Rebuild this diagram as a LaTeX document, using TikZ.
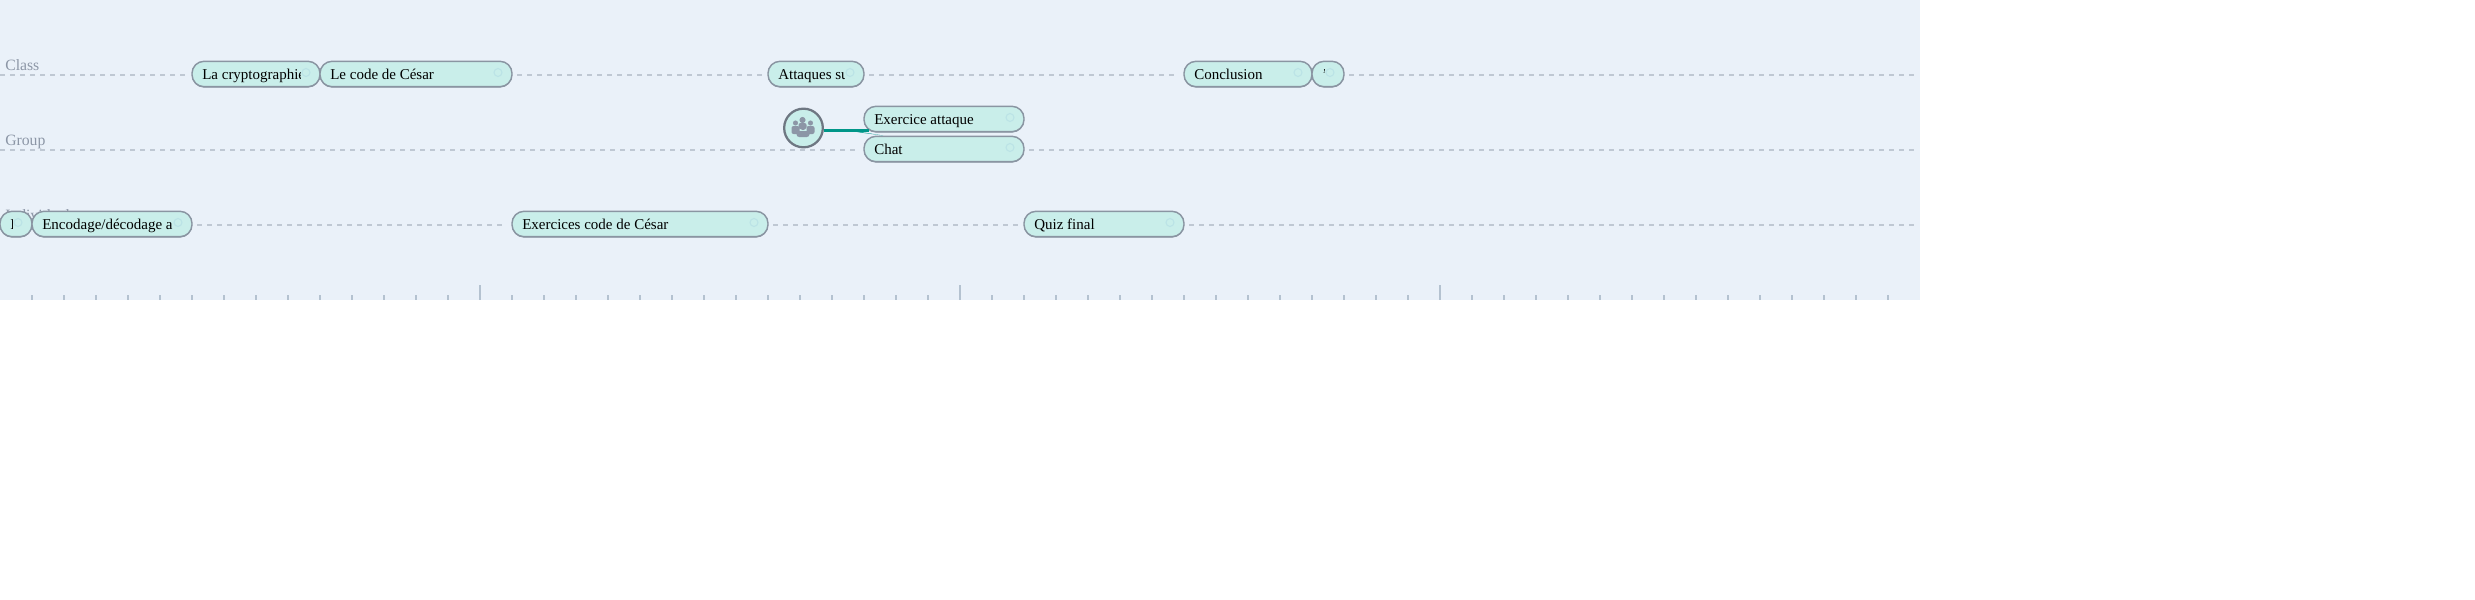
\documentclass[tikz,border=0pt]{standalone}
\usepackage{fontspec}
\setmainfont{Liberation Serif}
\usetikzlibrary{calc,shadows}

\definecolor{panelbg}{HTML}{EAF1F9}
\definecolor{actfill}{HTML}{C9EEEA}
\definecolor{actline}{HTML}{8A95A2}
\definecolor{rowdash}{HTML}{BFC8D3}
\definecolor{rowtext}{HTML}{8C96A6}
\definecolor{ticklin}{HTML}{B4C2D0}
\definecolor{linkcol}{HTML}{009688}
\definecolor{ringcol}{HTML}{BBE3E6}

\tikzset{
    actbox/.style={draw=actline,line width=1.1pt,fill=actfill,rounded corners=9pt,
        minimum height=19pt,inner sep=0pt,
        general shadow={shadow yshift=-0.7pt,fill=actline}},
    acttext/.style={font=\fontsize{11.25pt}{13pt}\selectfont,text=black,inner sep=0pt,anchor=base west},
    actring/.style={draw=ringcol,line width=0.8pt,circle,minimum size=6pt,inner sep=0pt},
    rowline/.style={draw=rowdash,line width=1.4pt,dash pattern=on 3.75pt off 3.75pt,shorten >=3.5pt,shorten <=3.5pt},
    rowlabel/.style={font=\fontsize{11.8pt}{13pt}\selectfont,text=rowtext,inner sep=0pt,anchor=base west},
    linkline/.style={draw=linkcol,line width=1.9pt},
}

% name, left, right, row, text
\newcommand{\actnode}[5]{
    \node[actbox,minimum width={(#3-#2)*0.75pt}] (#1) at ({(#2+#3)/2},#4) {};
    \begin{scope}
        \clip (#2,#4-13) rectangle (#3-19.5,#4+13);
        \node[acttext] (#1txt) at (#2+10,#4+5) {#5};
    \end{scope}
    \node[actring] (#1ring) at (#3-14,#4-1.5) {};
}

\begin{document}
\begin{tikzpicture}[x=0.75pt,y=-0.75pt]
\useasboundingbox (0,0) rectangle (2475,600);
\fill[panelbg] (0,0) rectangle (1920,300);

% ruler
\foreach \k in {1,...,59}{
    \draw[ticklin,line width=1.5pt] (32*\k,295) -- (32*\k,300);
}
\foreach \k in {480,960,1440}{
    \draw[ticklin,line width=1.5pt] (\k,285) -- (\k,300);
}

\node[rowlabel] (classlbl) at (5,70) {Class};
\node[rowlabel] (grouplbl) at (5,145) {Group};
\node[rowlabel] (indivlbl) at (5,220) {Individual};

% class row
\actnode{crypto}{192}{320}{74}{La cryptographie}
\actnode{cesar}{320}{512}{74}{Le code de César}
\actnode{attaques}{768}{864}{74}{Attaques su}
\actnode{conclu}{1184}{1312}{74}{Conclusion}
\actnode{tail}{1312}{1344}{74}{'}
% group row
\actnode{exoatt}{864}{1024}{119}{Exercice attaque}
\actnode{chat}{864}{1024}{149}{Chat}
% individual row
\actnode{intro}{0}{32}{224}{I}
\actnode{encod}{32}{192}{224}{Encodage/décodage a}
\actnode{exocesar}{512}{768}{224}{Exercices code de César}
\actnode{quiz}{1024}{1184}{224}{Quiz final}

\coordinate (classL) at (0,75);
\coordinate (classR) at (1916,75);
\coordinate (groupL) at (0,150);
\coordinate (groupR) at (1916,150);
\coordinate (indivR) at (1916,225);

\draw[rowline,shorten <=0pt] (classL) -- (crypto.west|-classL);
\draw[rowline] (cesar.east|-classL) -- (attaques.west|-classL);
\draw[rowline] (attaques.east|-classL) -- (conclu.west|-classL);
\draw[rowline,shorten >=0pt] (tail.east|-classR) -- (classR);
\draw[rowline,shorten <=0pt] (groupL) -- (chat.west|-groupL);
\draw[rowline,shorten >=0pt] (chat.east|-groupR) -- (groupR);
\draw[rowline] (encod.east|-indivR) -- (exocesar.west|-indivR);
\draw[rowline] (exocesar.east|-indivR) -- (quiz.west|-indivR);
\draw[rowline,shorten >=0pt] (quiz.east|-indivR) -- (indivR);

% group icon
\node[circle,draw=actline!80!black,line width=1.7pt,fill=actfill,minimum size=29pt,inner sep=0pt] (groupicon) at (803.5,128) {};
\begin{scope}[shift={(803.5,128)},rowtext]
    \fill (-1,-8) circle (2.3pt);
    \fill (-8,-5) circle (1.9pt);
    \fill (7,-5) circle (1.9pt);
    \fill[rounded corners=1.5pt] (-5,-5) rectangle (3,1);
    \fill[rounded corners=1.5pt] (-12,-2) rectangle (-4,6);
    \fill[rounded corners=1.5pt] (3,-2) rectangle (11,6);
    \fill (-0.5,-1) circle (2.3pt);
    \fill[rounded corners=2pt] (-7,3) rectangle (6,9);
\end{scope}

\coordinate (forkup) at (869,130.5);
\coordinate (forkdown) at (883,135.5);
\draw[linkline] (groupicon.east|-forkup) -- (forkup);
\fill[linkcol] (845,129.5) -- (forkdown) -- (860,132.5) -- cycle;
\end{tikzpicture}
\end{document}
